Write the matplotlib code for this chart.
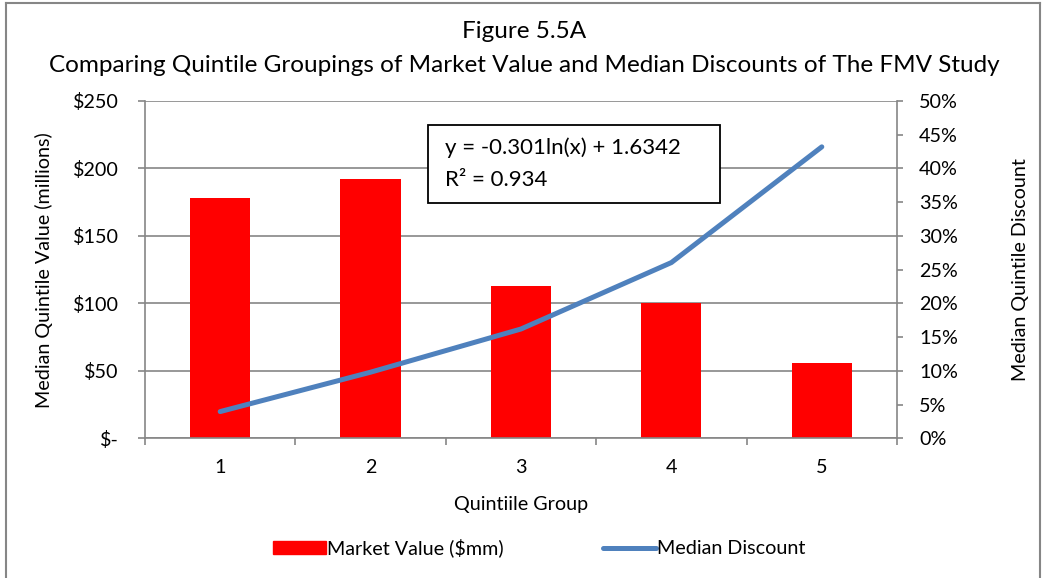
import numpy as np
import matplotlib
matplotlib.use("Agg")
import matplotlib.pyplot as plt
from matplotlib.patches import Rectangle
from matplotlib.lines import Line2D

plt.rcParams['font.family'] = ['Lato', 'DejaVu Sans']

groups = [1, 2, 3, 4, 5]
market_value = [178, 192, 113, 100, 56]          # $mm
median_discount = [3.96, 9.8, 16.2, 26.05, 43.2]  # percent
left_ticks = [0, 50, 100, 150, 200, 250]
left_labels = ['$-', '$50', '$100', '$150', '$200', '$250']
right_ticks = [0, 5, 10, 15, 20, 25, 30, 35, 40, 45, 50]

grey = '#868686'
fs = 14.2

fig = plt.figure(figsize=(10.49, 5.78), dpi=100)
ax = fig.add_axes([0.1382, 0.2417, 0.7169, 0.5836])
ax2 = ax.twinx()

ax.bar(groups, market_value, width=0.4, color='#FF0000', zorder=2,
       label='Market Value ($mm)')
ax2.plot(groups, median_discount, color='#4F81BD', lw=3.6,
         solid_capstyle='round', solid_joinstyle='round', zorder=3,
         label='Median Discount')

ax.set_xlim(0.5, 5.5)
ax.set_ylim(0, 250)
ax2.set_ylim(0, 50)

ax.set_yticks(left_ticks)
ax.set_yticklabels(left_labels)
ax2.set_yticks(right_ticks)
ax2.set_yticklabels(['%d%%' % t for t in right_ticks])
ax.set_xticks(groups)
ax.set_xticklabels([str(g) for g in groups])
ax.set_xticks([0.5, 1.5, 2.5, 3.5, 4.5, 5.5], minor=True)

ax.yaxis.grid(True, color=grey, lw=1.2, zorder=0)
ax.set_axisbelow(True)

for a in (ax, ax2):
    for s in a.spines.values():
        s.set_color(grey)
        s.set_linewidth(1.2)
    a.spines['top'].set_visible(False)
ax.spines['right'].set_visible(False)
ax2.spines['left'].set_visible(False)
ax2.spines['bottom'].set_visible(False)

ax.tick_params(axis='y', length=5, width=1.2, color=grey, pad=14, labelsize=fs)
ax.tick_params(axis='x', which='major', length=0, pad=15, labelsize=fs)
ax.tick_params(axis='x', which='minor', length=5, width=1.2, color=grey)
ax2.tick_params(axis='y', length=4, width=1.2, color=grey, pad=12, labelsize=fs)

ax.set_xlabel('Quintiile Group', fontsize=fs, labelpad=14)
ax.set_ylabel('Median Quintile Value (millions)', fontsize=fs, labelpad=14)
ax2.set_ylabel('Median Quintile Discount', fontsize=fs, labelpad=39)

fig.text(0.5, 1 - 32 / 578, 'Figure 5.5A', ha='center', va='center', fontsize=17.5)
fig.text(0.5, 1 - 65 / 578,
         'Comparing Quintile Groupings of Market Value and Median Discounts of The FMV Study',
         ha='center', va='center', fontsize=17.5)

# trendline equation box
ax2.add_patch(Rectangle((0.376, 0.698), 0.388, 0.231, transform=ax2.transAxes,
                        facecolor='white', edgecolor='black', lw=1.3, zorder=5))
ax2.text(0.399, 0.861, 'y = -0.301ln(x) + 1.6342', transform=ax2.transAxes,
         va='center', ha='left', fontsize=16, zorder=6)
ax2.text(0.399, 0.766, 'R² = 0.934', transform=ax2.transAxes,
         va='center', ha='left', fontsize=16, zorder=6)

handles = [Rectangle((0, 0), 1, 1, color='#FF0000'),
           Line2D([], [], color='#4F81BD', lw=3.6, solid_capstyle='round')]
fig.legend(handles, ['Market Value ($mm)', 'Median Discount'], loc='center',
           bbox_to_anchor=(0.514, 1 - 548 / 578), ncol=2, frameon=False,
           fontsize=fs, handlelength=2.7, handletextpad=0.05, columnspacing=5.0,
           handleheight=0.6)

# outer chart border
fig.add_artist(Line2D([0.006, 0.006], [0, 0.995], color=grey, lw=1.5,
                      transform=fig.transFigure))
fig.add_artist(Line2D([0.006, 0.991], [0.995, 0.995], color=grey, lw=1.5,
                      transform=fig.transFigure))
fig.add_artist(Line2D([0.991, 0.991], [0, 0.995], color=grey, lw=1.5,
                      transform=fig.transFigure))

fig.savefig('out.png', dpi=100)
